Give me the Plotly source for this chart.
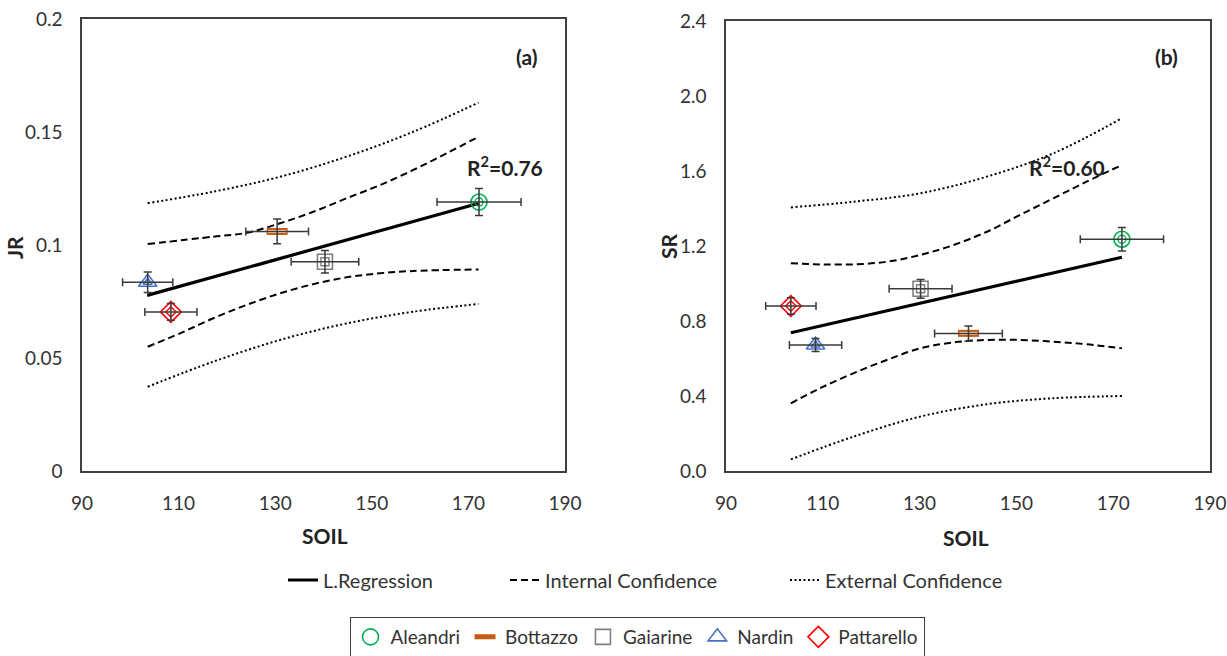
import plotly.graph_objects as go

# ---------------- data ----------------
sites = ["Aleandri", "Bottazzo", "Gaiarine", "Nardin", "Pattarello"]

# panel (a): JR vs SOIL
soil_a = [172.2, 130.4, 140.3, 103.6, 108.4]
soil_err_a = [8.7, 6.5, 7.0, 5.2, 5.4]
jr = [0.119, 0.106, 0.0926, 0.0835, 0.0704]
jr_err = [0.006, 0.0055, 0.005, 0.0045, 0.0037]

# panel (b): SR vs SOIL
soil_b = [171.8, 140.1, 130.2, 108.5, 103.4]
soil_err_b = [8.6, 7.0, 6.5, 5.4, 5.2]
sr = [1.236, 0.734, 0.972, 0.672, 0.880]
sr_err = [0.063, 0.04, 0.05, 0.035, 0.044]

# regression lines
reg_a_x = [103.5, 172.2]
reg_a_y = [0.0777, 0.1185]
reg_b_x = [103.4, 171.8]
reg_b_y = [0.737, 1.14]

# confidence curves, panel (a)
ext_up_a_x = [103.6, 117.2, 131.0, 144.8, 158.6, 172.1]
ext_up_a_y = [0.1185, 0.1236, 0.1302, 0.1391, 0.1501, 0.1630]
int_up_a_x = [103.6, 117.2, 124.1, 131.0, 137.9, 144.8, 151.7, 158.6, 165.5, 172.1]
int_up_a_y = [0.1004, 0.1037, 0.1054, 0.1096, 0.1147, 0.1207, 0.1265, 0.1332, 0.1406, 0.1479]
int_lo_a_x = [103.6, 110.3, 117.2, 124.1, 131.0, 137.9, 144.8, 151.7, 158.6, 172.1]
int_lo_a_y = [0.0550, 0.0609, 0.0676, 0.0735, 0.0786, 0.0827, 0.0857, 0.0875, 0.0885, 0.0892]
ext_lo_a_x = [103.6, 117.2, 131.0, 144.8, 158.6, 172.1]
ext_lo_a_y = [0.0373, 0.0484, 0.0580, 0.0653, 0.0705, 0.0739]

# confidence curves, panel (b)
ext_up_b_x = [103.4, 116.3, 130.1, 143.9, 157.6, 171.4]
ext_up_b_y = [1.406, 1.436, 1.481, 1.570, 1.694, 1.876]
int_up_b_x = [103.4, 109.4, 116.3, 123.2, 130.1, 137.0, 143.9, 150.7, 157.6, 164.5, 171.4]
int_up_b_y = [1.108, 1.102, 1.102, 1.116, 1.152, 1.205, 1.276, 1.365, 1.454, 1.543, 1.627]
int_lo_b_x = [103.4, 109.4, 116.3, 123.2, 130.1, 137.0, 143.9, 150.7, 157.6, 164.5, 171.8]
int_lo_b_y = [0.361, 0.441, 0.521, 0.592, 0.654, 0.686, 0.699, 0.699, 0.690, 0.676, 0.654]
ext_lo_b_x = [103.4, 116.3, 130.1, 143.9, 157.6, 171.8]
ext_lo_b_y = [0.062, 0.183, 0.290, 0.356, 0.388, 0.400]

x_ticks = [90, 110, 130, 150, 170, 190]
jr_ticks = [0, 0.05, 0.1, 0.15, 0.2]
jr_tick_text = ["0", "0.05", "0.1", "0.15", "0.2"]
sr_ticks = [0.0, 0.4, 0.8, 1.2, 1.6, 2.0, 2.4]

# ---------------- styling ----------------
FONT = "Lato"
TXT = "#333333"
colors = ["#00B050", "#C55A11", "#7F7F7F", "#4472C4", "#FF0000"]
outer_sym = ["circle-open", "line-ew-open", "square-open", "triangle-up-open", "diamond-open"]
inner_sym = ["circle-open", "line-ew-open", "square-open", "triangle-up-open", "diamond-open"]
outer_size = [16, 15, 15, 16, 16]
inner_size = [8, 13, 8, 8, 8]
outer_lw = [1.6, 7, 1.6, 1.6, 1.6]
inner_lw = [1.4, 3, 1.4, 1.4, 1.4]
inner_col = ["#00B050", "#FBE1D2", "#7F7F7F", "#4472C4", "#FF0000"]
ERR = "#3a3a3a"

fig = go.Figure()

def add_lines(xa, ya, rx, ry, eux, euy, iux, iuy, ilx, ily, elx, ely, show):
    fig.add_trace(go.Scatter(x=rx, y=ry, mode="lines", name="L.Regression",
                             line=dict(color="black", width=3.2), xaxis=xa, yaxis=ya,
                             showlegend=show, legend="legend"))
    for i, (cx, cy) in enumerate([(iux, iuy), (ilx, ily)]):
        fig.add_trace(go.Scatter(x=cx, y=cy, mode="lines", name="Internal Confidence",
                                 line=dict(color="black", width=2, dash="7px,4px", shape="spline"),
                                 xaxis=xa, yaxis=ya, showlegend=show and i == 0, legend="legend2"))
    for i, (cx, cy) in enumerate([(eux, euy), (elx, ely)]):
        fig.add_trace(go.Scatter(x=cx, y=cy, mode="lines", name="External Confidence",
                                 line=dict(color="black", width=2, dash="2px,2.5px", shape="spline"),
                                 xaxis=xa, yaxis=ya, showlegend=show and i == 0, legend="legend3"))

add_lines("x", "y", reg_a_x, reg_a_y, ext_up_a_x, ext_up_a_y, int_up_a_x, int_up_a_y,
          int_lo_a_x, int_lo_a_y, ext_lo_a_x, ext_lo_a_y, True)
add_lines("x2", "y2", reg_b_x, reg_b_y, ext_up_b_x, ext_up_b_y, int_up_b_x, int_up_b_y,
          int_lo_b_x, int_lo_b_y, ext_lo_b_x, ext_lo_b_y, False)

def add_points(xa, ya, xs, xe, ys, ye, show):
    for i, s in enumerate(sites):
        fig.add_trace(go.Scatter(x=[xs[i]], y=[ys[i]], mode="markers", name=s,
                                 marker=dict(symbol=outer_sym[i], size=outer_size[i], color=colors[i],
                                             line=dict(width=outer_lw[i], color=colors[i])),
                                 xaxis=xa, yaxis=ya, showlegend=show, legend="legend4"))
        fig.add_trace(go.Scatter(x=[xs[i]], y=[ys[i]], mode="markers", name=s,
                                 marker=dict(symbol=inner_sym[i], size=inner_size[i], color=inner_col[i],
                                             line=dict(width=inner_lw[i], color=inner_col[i])),
                                 xaxis=xa, yaxis=ya, showlegend=False, hoverinfo="skip"))
        fig.add_trace(go.Scatter(x=[xs[i]], y=[ys[i]], mode="markers", name=s,
                                 marker=dict(size=1, color="rgba(0,0,0,0)"),
                                 error_x=dict(type="data", array=[xe[i]], color=ERR, thickness=1.5, width=4),
                                 error_y=dict(type="data", array=[ye[i]], color=ERR, thickness=1.5, width=4),
                                 xaxis=xa, yaxis=ya, showlegend=False, hoverinfo="skip"))

add_points("x", "y", soil_a, soil_err_a, jr, jr_err, True)
add_points("x2", "y2", soil_b, soil_err_b, sr, sr_err, False)

W, H = 1227, 656
axis_common = dict(showgrid=False, zeroline=False, showline=True, mirror=True,
                   linecolor="#404040", linewidth=1.5, ticks="", automargin=False,
                   tickfont=dict(family=FONT, size=19, color=TXT), ticklabelstandoff=14)

BOLD = dict(family=FONT, size=21, color="#222")
C = dict(xanchor="center", yanchor="middle", showarrow=False, font=BOLD)

fig.update_layout(
    width=W, height=H, margin=dict(l=0, r=0, t=0, b=0, autoexpand=False),
    paper_bgcolor="white", plot_bgcolor="white",
    font=dict(family=FONT, color=TXT),
    xaxis=dict(domain=[82 / W, 565 / W], range=[90, 190], tickvals=x_ticks, anchor="y", **axis_common),
    yaxis=dict(domain=[1 - 471 / H, 1 - 19 / H], range=[0, 0.2], tickvals=jr_ticks,
               ticktext=jr_tick_text, anchor="x", **axis_common),
    xaxis2=dict(domain=[726 / W, 1210 / W], range=[90, 190], tickvals=x_ticks, anchor="y2", **axis_common),
    yaxis2=dict(domain=[1 - 471 / H, 1 - 21 / H], range=[0, 2.4], tickvals=sr_ticks,
                tickformat=".1f", anchor="x2", **axis_common),
    legend=dict(x=283 / W, y=1 - 580 / H, xanchor="left", yanchor="middle", orientation="h",
                itemwidth=30, bgcolor="rgba(0,0,0,0)", font=dict(family=FONT, size=20, color=TXT)),
    legend2=dict(x=505 / W, y=1 - 580 / H, xanchor="left", yanchor="middle", orientation="h",
                 itemwidth=30, bgcolor="rgba(0,0,0,0)", font=dict(family=FONT, size=20, color=TXT)),
    legend3=dict(x=785 / W, y=1 - 580 / H, xanchor="left", yanchor="middle", orientation="h",
                 itemwidth=30, bgcolor="rgba(0,0,0,0)", font=dict(family=FONT, size=20, color=TXT)),
    legend4=dict(x=637 / W, y=1 - 637 / H, xanchor="center", yanchor="middle", orientation="h",
                 itemwidth=30, bgcolor="white", bordercolor="#404040", borderwidth=1,
                 font=dict(family=FONT, size=19, color=TXT)),
    annotations=[
        dict(text="<b>R<sup>2</sup>=0.76</b>", x=177.6, y=0.135, xref="x", yref="y", **C),
        dict(text="<b>R<sup>2</sup>=0.60</b>", x=160.5, y=1.626, xref="x2", yref="y2", **C),
        dict(text="<b>(a)</b>", x=182.1, y=0.1836, xref="x", yref="y", **C),
        dict(text="<b>(b)</b>", x=181.1, y=2.213, xref="x2", yref="y2", **C),
        dict(text="<b>SOIL</b>", x=325 / W, y=1 - 535 / H, xref="paper", yref="paper", **C),
        dict(text="<b>SOIL</b>", x=966 / W, y=1 - 537 / H, xref="paper", yref="paper", **C),
        dict(text="<b>JR</b>", x=14 / W, y=1 - 248 / H, xref="paper", yref="paper", textangle=-90, **C),
        dict(text="<b>SR</b>", x=668 / W, y=1 - 246 / H, xref="paper", yref="paper", textangle=-90, **C),
    ],
)

fig.write_html("out.html")
